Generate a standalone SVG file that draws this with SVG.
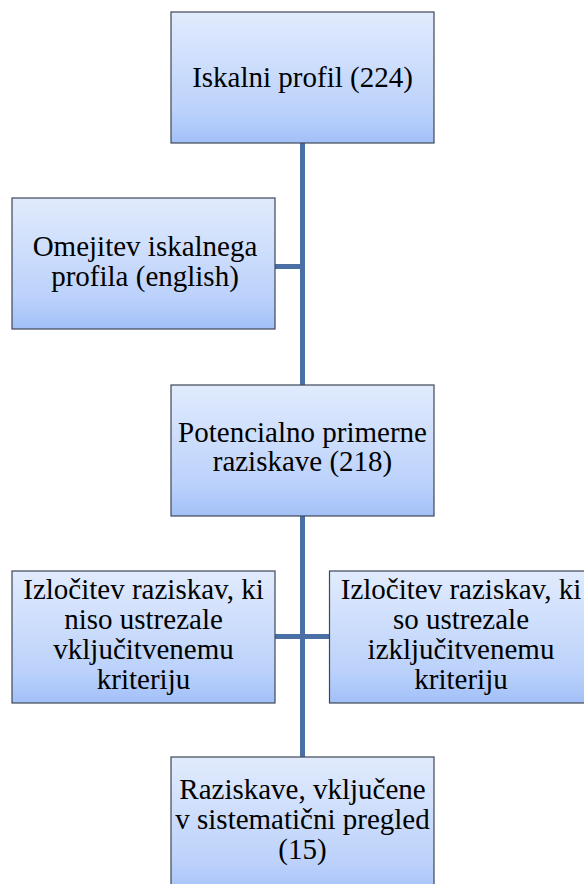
<svg xmlns="http://www.w3.org/2000/svg" width="584" height="884" viewBox="0 0 584 884">
<defs>
<linearGradient id="g" x1="0" y1="0" x2="0" y2="1">
<stop offset="0" stop-color="#e1ebfd"/>
<stop offset="0.75" stop-color="#bcd2fb"/>
<stop offset="1" stop-color="#a2c0f8"/>
</linearGradient>
<style>
.box{fill:url(#g);stroke:#3f4756;stroke-width:1.2}
text{font-family:'Liberation Serif',serif;font-size:29px;fill:#000;text-anchor:middle}
.c{stroke:#4a6fa5;stroke-width:5;fill:none}
</style>
</defs>
<rect width="584" height="884" fill="#fff"/>
<g id="connectors">
<line class="c" x1="302.5" y1="143" x2="302.5" y2="385"/>
<line class="c" x1="275" y1="266.5" x2="302.5" y2="266.5"/>
<line class="c" x1="302.5" y1="516" x2="302.5" y2="757"/>
<line class="c" x1="275" y1="636.5" x2="329" y2="636.5"/>
</g>
<g font-family="Liberation Serif, serif" font-size="29" text-anchor="middle">
<g id="n1">
<rect class="box" x="171" y="12" width="263" height="131"/>
<text x="302.5" y="87">Iskalni profil (224)</text>
</g>
<g id="n2">
<rect class="box" x="12" y="198" width="263" height="131"/>
<text x="145" y="256">Omejitev iskalnega</text>
<text x="145" y="285.5">profila (english)</text>
</g>
<g id="n3">
<rect class="box" x="171" y="385" width="263" height="131"/>
<text x="302.5" y="442">Potencialno primerne</text>
<text x="302.5" y="471">raziskave (218)</text>
</g>
<g id="n4">
<rect class="box" x="12" y="571" width="263" height="132"/>
<text x="143.5" y="598.5">Izločitev raziskav, ki</text>
<text x="143.5" y="628.5">niso ustrezale</text>
<text x="143.5" y="658.5">vključitvenemu</text>
<text x="143.5" y="688.5">kriteriju</text>
</g>
<g id="n5">
<rect class="box" x="329.5" y="571" width="263" height="132"/>
<text x="461" y="598.5">Izločitev raziskav, ki</text>
<text x="461" y="628.5">so ustrezale</text>
<text x="461" y="658.5">izključitvenemu</text>
<text x="461" y="688.5">kriteriju</text>
</g>
<g id="n6">
<rect class="box" x="171" y="757" width="263" height="140"/>
<text x="302.5" y="799">Raziskave, vključene</text>
<text x="302.5" y="829">v sistematični pregled</text>
<text x="302.5" y="859">(15)</text>
</g>
</g>
</svg>
